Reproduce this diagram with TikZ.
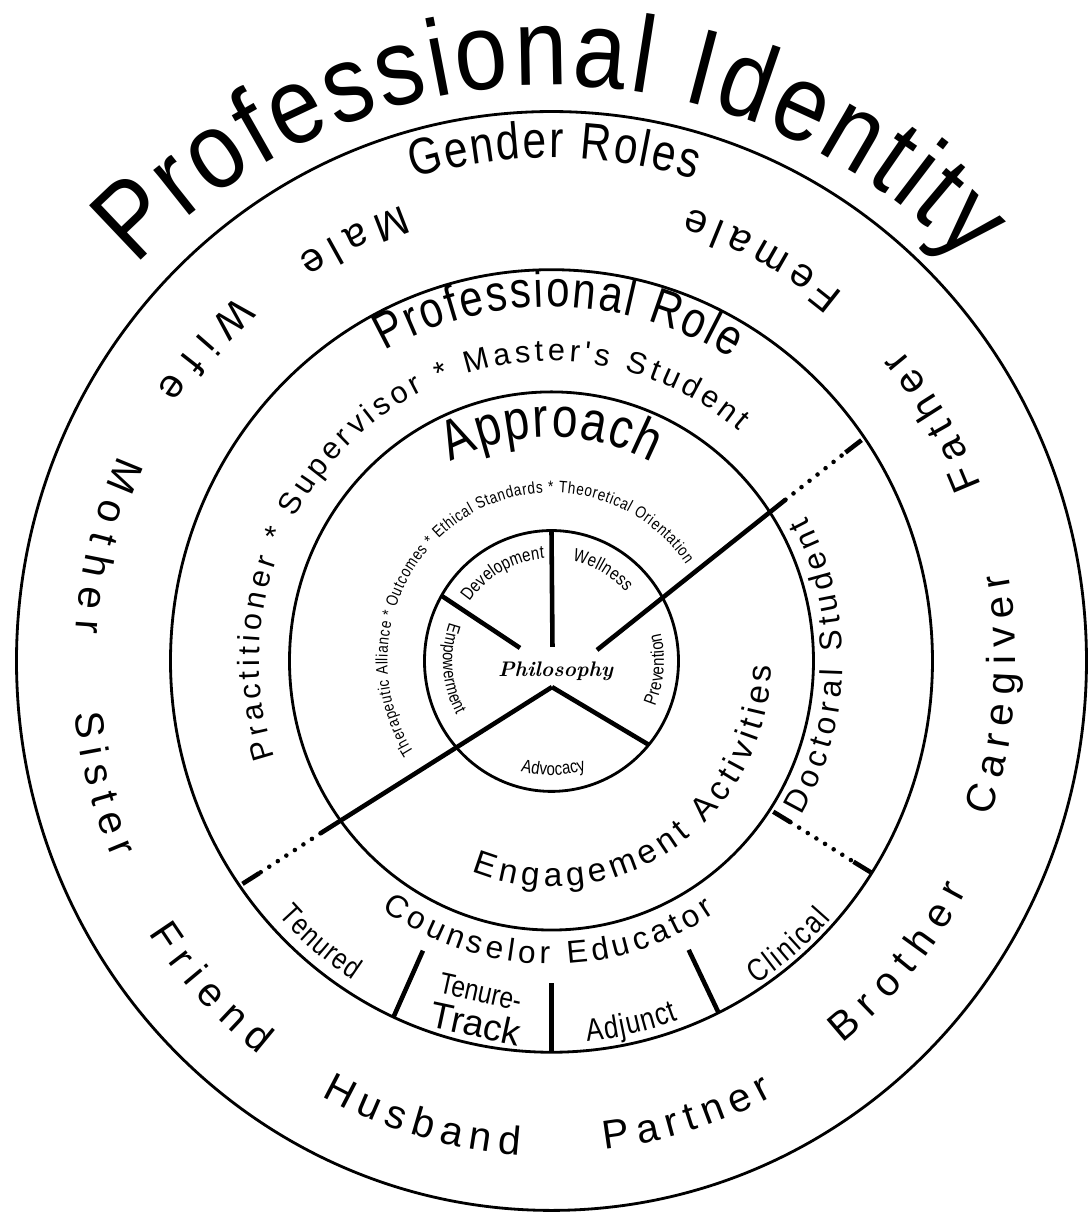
\documentclass[tikz,border=0pt]{standalone}
\usepackage{fontspec}
\usepackage{tikz}
\usetikzlibrary{decorations.text}
\newfontfamily\labelsf{Liberation Sans}
\newfontfamily\narrowsf[FakeStretch=0.82]{Liberation Sans}
\newfontfamily\titlesf[FakeStretch=0.87]{Liberation Sans}
\newcommand{\fsz}[1]{\fontsize{#1}{#1}\selectfont}

\tikzset{
  ring/.style={line width=0.8pt},
  spoke/.style={line width=1.3pt},
  dotline/.style={line width=1.3pt, line cap=round, dash pattern=on 0pt off 2.9pt},
}
% text on an arc: font, radius, start angle, end angle, text
\newcommand{\arclabel}[5]{%
  \path[decorate, decoration={text along path, text align=fit to path,
    text={|#1|#5}}] (#3:#2) arc[start angle=#3, end angle=#4, radius=#2];}

\begin{document}
\begin{tikzpicture}[x=1cm, y=1.027cm]
  \useasboundingbox (-5.515,-5.385) rectangle (5.365,6.436);
  % rings
  \foreach \r in {5.35,3.81,2.62,1.27}
    \draw[ring] (0,0) circle[radius=\r];

  % philosophy wedges
  \coordinate (v) at (0.005,-0.254);
  \draw[spoke] (90:1.27) -- (0.01,0.137);
  \draw[spoke] (150:1.27) -- (-0.315,0.127);
  \draw[spoke] (v) -- (-40:1.27);

  % long dividers, solid then dotted
  \coordinate (ur0) at (0.455,0.107);
  \coordinate (ur1) at (2.34,1.57);
  \coordinate (ur2) at (2.94,2.03);
  \coordinate (ur3) at (3.10,2.15);
  \draw[spoke] (ur0) -- (ur1) (ur2) -- (ur3);
  \draw[dotline] (ur1) -- (ur2);
  \coordinate (ll1) at (-2.31,-1.678);
  \coordinate (ll2) at (-2.92,-2.065);
  \coordinate (ll3) at (-3.09,-2.17);
  \draw[spoke] (v) -- (ll1) (ll2) -- (ll3);
  \draw[dotline] (ll1) -- (ll2);
  \coordinate (lr0) at (-33.5:2.66);
  \coordinate (lr1) at (2.39,-1.57);
  \coordinate (lr2) at (3.02,-1.955);
  \coordinate (lr3) at (-32.8:3.80);
  \draw[spoke] (lr0) -- (lr1) (lr2) -- (lr3);
  \draw[dotline] (lr1) -- (lr2);

  % counselor educator sectors
  \foreach \a/\r in {245.5/3.10, 270/3.14, 296/3.13}
    \draw[spoke] (\a:\r) -- (\a:3.81);

  % outer ring
  \begin{scope}[yshift=-0.2cm]
    \arclabel{\titlesf\fsz{31}}{5.80}{135.8}{44.4}{Professional Identity}
  \end{scope}
  \arclabel{\narrowsf\fsz{14.7}}{4.90}{106.4}{73}{Gender Roles}
  \arclabel{\labelsf\fsz{11.5}}{4.675}{108.6}{122.9}{Male}
  \arclabel{\labelsf\fsz{11.5}}{4.615}{50.8}{72.7}{Female}
  \arclabel{\labelsf\fsz{11.5}}{4.745}{131.4}{146.2}{Wife}
  \arclabel{\labelsf\fsz{11.5}}{4.765}{155.2}{176.7}{Mother}
  \arclabel{\labelsf\fsz{11.5}}{4.795}{186.1}{203.7}{Sister}
  \arclabel{\labelsf\fsz{11.5}}{4.825}{213.3}{232.6}{Friend}
  \arclabel{\labelsf\fsz{11.5}}{4.82}{241.5}{266.3}{Husband}
  \arclabel{\labelsf\fsz{11.5}}{4.785}{276.4}{297.7}{Partner}
  \arclabel{\labelsf\fsz{11.5}}{4.72}{308}{331.7}{Brother}
  \arclabel{\labelsf\fsz{11.5}}{4.645}{341}{370.6}{Caregiver}
  \arclabel{\labelsf\fsz{11.5}}{4.625}{21.7}{41}{Father}

  % professional role ring
  \arclabel{\narrowsf\fsz{14.5}}{3.45}{119}{58.5}{Professional Role}
  \arclabel{\labelsf\fsz{8.7}}{2.92}{198.7}{50}{Practitioner * Supervisor * Master's Student}
  \arclabel{\labelsf\fsz{9}}{2.915}{329}{388.9}{Doctoral Student}
  \arclabel{\labelsf\fsz{9}}{2.95}{234.9}{303.7}{Counselor Educator}
  \arclabel{\narrowsf\fsz{8.5}}{3.69}{222.2}{237.4}{Tenured}
  \arclabel{\narrowsf\fsz{9}}{3.72}{275.5}{290}{Adjunct}
  \arclabel{\narrowsf\fsz{9}}{3.76}{303}{318}{Clinical}
  \node[rotate=-12.4, inner sep=0pt] (tenure) at (257.6:3.30) {\narrowsf\fsz{8.5}Tenure-};
  \node[rotate=-12.1, inner sep=0pt] (track) at (257.9:3.61) {\labelsf\fsz{10.5}Track};

  % approach ring
  \arclabel{\narrowsf\fsz{16}}{2.18}{117.5}{62.5}{Approach}
  \arclabel{\narrowsf\fsz{4.7}}{1.64}{213}{35}{Therapeutic Alliance * Outcomes * Ethical Standards * Theoretical Orientation}
  \arclabel{\labelsf\fsz{9.5}}{2.20}{248.8}{358.7}{Engagement Activities}

  % philosophy
  \arclabel{\narrowsf\fsz{5.2}}{1.0}{145}{94}{Development}
  \arclabel{\narrowsf\fsz{5.2}}{1.0}{78}{42}{Wellness}
  \arclabel{\narrowsf\fsz{5.2}}{1.125}{-23}{14}{Prevention}
  \arclabel{\narrowsf\fsz{5.2}}{1.115}{254}{288}{Advocacy}
  \arclabel{\narrowsf\fsz{5}}{1.085}{160}{209}{Empowerment}
  \node (philo) at (0.04,-0.105) {\fsz{6}\bfseries\itshape Philosophy};
\end{tikzpicture}
\end{document}
